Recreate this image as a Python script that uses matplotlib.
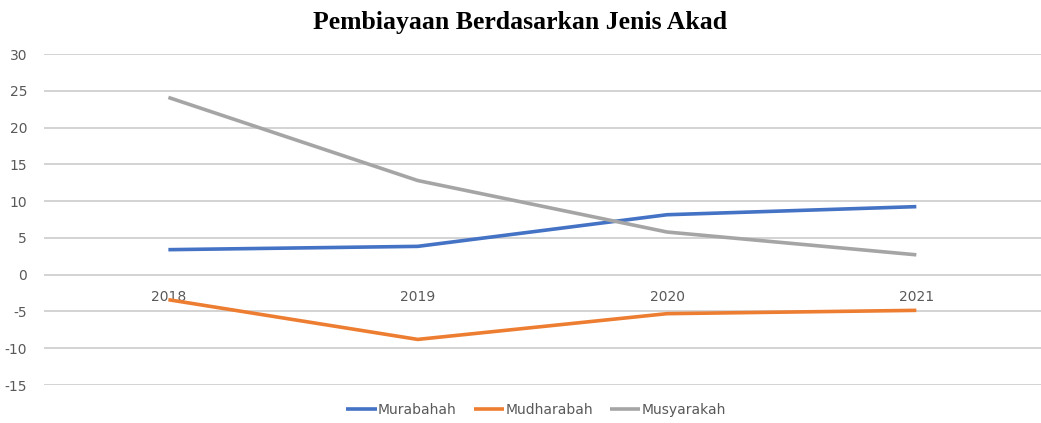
import matplotlib.pyplot as plt

plt.rcParams['axes.unicode_minus'] = False

years = ['2018', '2019', '2020', '2021']
murabahah = [3.4, 3.85, 8.15, 9.25]
mudharabah = [-3.4, -8.8, -5.3, -4.85]
musyarakah = [24.1, 12.8, 5.8, 2.7]

fig = plt.figure(figsize=(10.41, 4.23), dpi=100)
ax = fig.add_axes([0.042, 0.0898, 0.958, 0.7825])

x = range(len(years))
ax.plot(x, murabahah, color='#4472C4', lw=2.6, label='Murabahah', solid_capstyle='butt')
ax.plot(x, mudharabah, color='#ED7D31', lw=2.6, label='Mudharabah', solid_capstyle='butt')
ax.plot(x, musyarakah, color='#A5A5A5', lw=2.6, label='Musyarakah', solid_capstyle='butt')

ax.set_xlim(-0.5, 3.5)
ax.set_ylim(-15, 30)
ax.set_yticks(range(-15, 31, 5))
ax.set_xticks(list(x))
ax.set_xticklabels(years)
ax.grid(axis='y', color='#c8c8c8', lw=1.1)
ax.set_axisbelow(True)
for s in ax.spines.values():
    s.set_visible(False)
ax.spines['bottom'].set_position(('data', 0))
ax.tick_params(axis='both', length=0, colors='#595959', labelsize=10)
ax.tick_params(axis='x', pad=11)
ax.tick_params(axis='y', pad=12)

fig.suptitle('Pembiayaan Berdasarkan Jenis Akad', y=0.975, fontsize=18.5,
             fontweight='bold', family='Liberation Serif')
leg = fig.legend(loc='center', bbox_to_anchor=(0.515, 0.03), ncol=3, frameon=False,
                 fontsize=10, handlelength=2.2, columnspacing=1.2, handletextpad=0.1)
for t in leg.get_texts():
    t.set_color('#595959')

fig.savefig('out.png')
